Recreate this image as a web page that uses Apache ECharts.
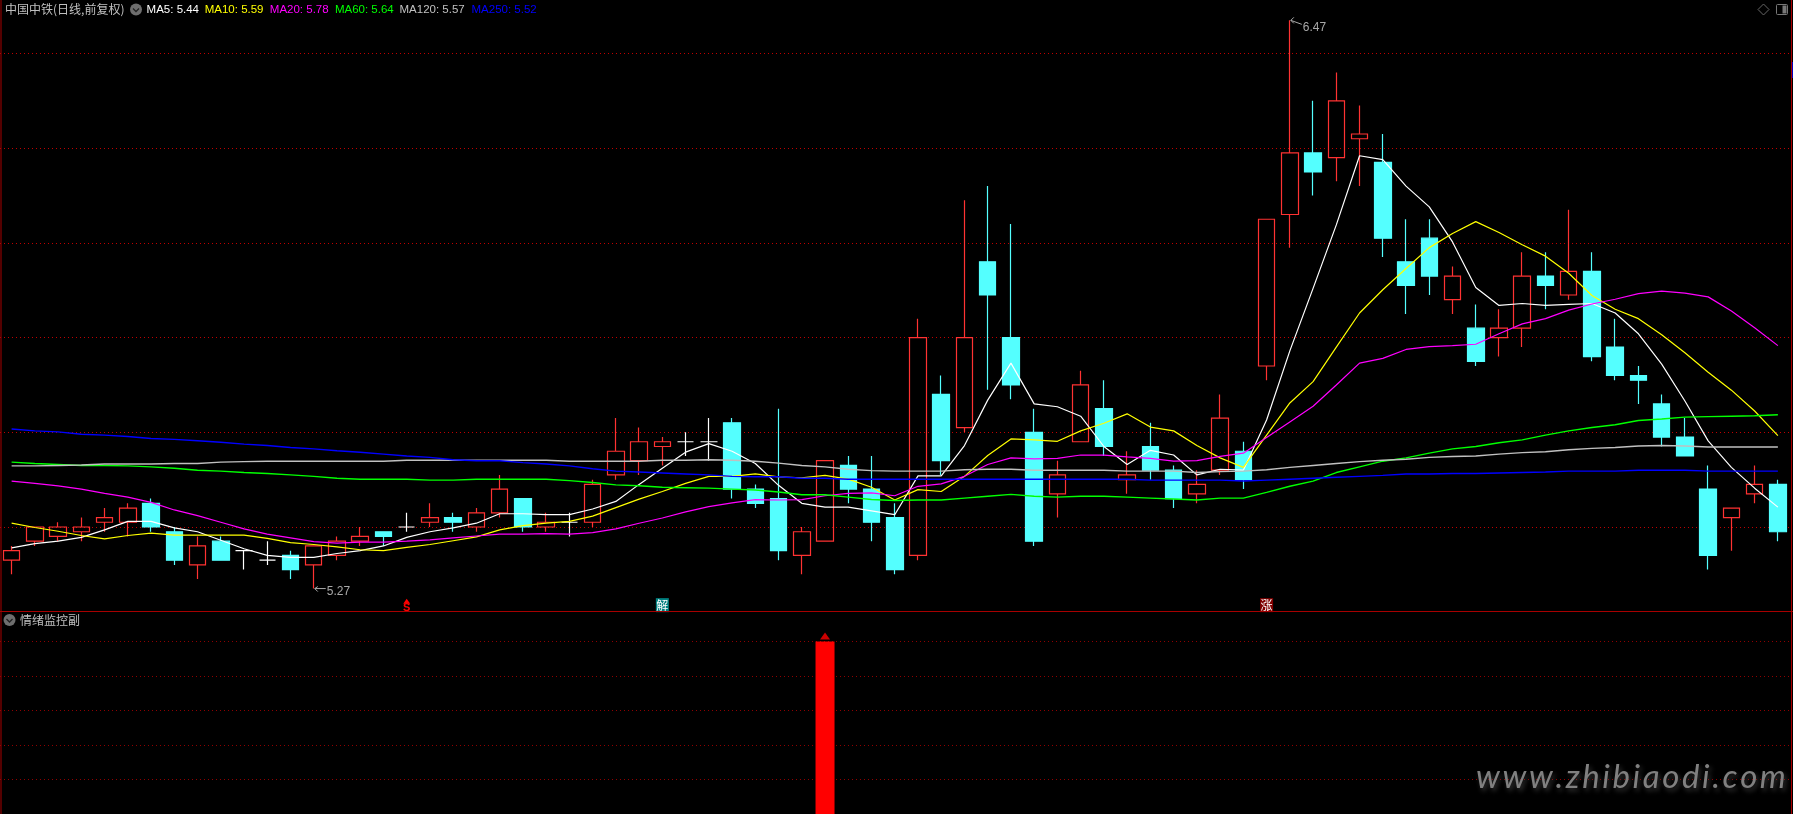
<!DOCTYPE html>
<html><head><meta charset="utf-8">
<style>html,body{margin:0;padding:0;background:#000;overflow:hidden}#c{width:1793px;height:814px}</style>
<script src="https://cdn.jsdelivr.net/npm/echarts@6/dist/echarts.min.js"></script>
</head><body><div id="c"></div>
<script>
const opens=[5.33,5.37,5.38,5.39,5.41,5.41,5.45,5.39,5.32,5.37,5.35,5.33,5.34,5.32,5.34,5.37,5.39,5.40,5.41,5.42,5.40,5.43,5.46,5.40,5.41,5.41,5.51,5.54,5.57,5.58,5.58,5.62,5.48,5.46,5.34,5.37,5.53,5.48,5.42,5.34,5.68,5.61,5.96,5.80,5.60,5.47,5.58,5.65,5.50,5.57,5.52,5.47,5.52,5.56,5.74,6.06,6.19,6.18,6.22,6.17,5.96,6.01,5.88,5.82,5.80,5.82,5.93,5.89,5.94,5.78,5.72,5.66,5.59,5.48,5.42,5.47,5.49];
const closes=[5.35,5.40,5.40,5.40,5.42,5.44,5.40,5.33,5.36,5.33,5.35,5.33,5.31,5.36,5.37,5.38,5.38,5.40,5.42,5.41,5.43,5.48,5.40,5.41,5.41,5.49,5.56,5.58,5.58,5.58,5.58,5.48,5.45,5.35,5.39,5.54,5.48,5.41,5.31,5.80,5.54,5.80,5.89,5.70,5.37,5.51,5.70,5.57,5.51,5.52,5.46,5.49,5.63,5.50,6.05,6.19,6.15,6.30,6.23,6.01,5.91,5.93,5.93,5.75,5.82,5.93,5.91,5.94,5.76,5.72,5.71,5.59,5.55,5.34,5.44,5.49,5.39];
const highs=[5.36,5.40,5.41,5.42,5.44,5.45,5.46,5.40,5.38,5.38,5.35,5.37,5.35,5.36,5.38,5.40,5.39,5.43,5.45,5.43,5.44,5.51,5.46,5.43,5.43,5.50,5.63,5.61,5.59,5.60,5.63,5.63,5.49,5.65,5.40,5.54,5.55,5.55,5.45,5.84,5.72,6.09,6.12,6.04,5.65,5.54,5.73,5.71,5.56,5.62,5.53,5.52,5.68,5.58,6.05,6.47,6.30,6.36,6.29,6.23,6.05,6.05,5.95,5.87,5.86,5.98,5.98,6.07,5.98,5.84,5.74,5.68,5.63,5.53,5.44,5.53,5.50];
const lows=[5.30,5.36,5.37,5.37,5.39,5.38,5.39,5.32,5.29,5.33,5.31,5.32,5.29,5.27,5.33,5.36,5.36,5.39,5.40,5.39,5.39,5.42,5.39,5.39,5.38,5.40,5.50,5.51,5.53,5.55,5.54,5.46,5.44,5.33,5.30,5.37,5.45,5.37,5.30,5.33,5.51,5.60,5.69,5.67,5.36,5.42,5.58,5.55,5.47,5.50,5.44,5.45,5.51,5.48,5.71,5.99,6.10,6.13,6.12,5.97,5.85,5.89,5.85,5.74,5.76,5.78,5.86,5.88,5.75,5.71,5.66,5.57,5.55,5.31,5.35,5.45,5.37];
const ma5=[5.356,5.365,5.370,5.378,5.394,5.412,5.412,5.398,5.390,5.372,5.354,5.340,5.336,5.336,5.344,5.350,5.360,5.378,5.390,5.398,5.408,5.428,5.428,5.426,5.426,5.438,5.454,5.490,5.524,5.558,5.576,5.560,5.534,5.488,5.450,5.442,5.442,5.434,5.426,5.508,5.508,5.572,5.668,5.746,5.660,5.654,5.634,5.570,5.532,5.562,5.552,5.510,5.522,5.520,5.626,5.772,5.904,6.038,6.184,6.176,6.120,6.076,6.002,5.906,5.868,5.872,5.868,5.870,5.872,5.852,5.808,5.744,5.666,5.582,5.526,5.482,5.442];
const ma10=[5.408,5.399,5.391,5.382,5.375,5.382,5.387,5.383,5.383,5.383,5.383,5.376,5.367,5.363,5.358,5.352,5.350,5.357,5.363,5.371,5.379,5.394,5.403,5.408,5.412,5.423,5.441,5.459,5.475,5.492,5.507,5.507,5.512,5.506,5.504,5.509,5.501,5.484,5.457,5.479,5.475,5.507,5.551,5.586,5.584,5.581,5.603,5.619,5.639,5.611,5.603,5.572,5.546,5.526,5.594,5.662,5.707,5.780,5.852,5.901,5.946,5.990,6.020,6.045,6.022,5.996,5.972,5.936,5.889,5.860,5.840,5.806,5.768,5.727,5.689,5.645,5.593];
const ma20=[5.497,5.492,5.487,5.480,5.471,5.463,5.452,5.436,5.424,5.410,5.396,5.385,5.377,5.369,5.366,5.368,5.368,5.370,5.373,5.377,5.381,5.385,5.385,5.386,5.385,5.388,5.396,5.408,5.419,5.432,5.443,5.451,5.458,5.457,5.458,5.466,5.471,5.472,5.466,5.486,5.491,5.507,5.532,5.546,5.544,5.545,5.552,5.552,5.548,5.545,5.539,5.540,5.549,5.556,5.589,5.622,5.655,5.700,5.746,5.756,5.775,5.781,5.783,5.786,5.808,5.829,5.840,5.858,5.871,5.881,5.893,5.898,5.894,5.886,5.856,5.821,5.783];
const ma60=[5.537,5.534,5.532,5.530,5.530,5.529,5.527,5.524,5.520,5.518,5.515,5.513,5.510,5.507,5.503,5.501,5.501,5.501,5.499,5.499,5.501,5.501,5.501,5.501,5.498,5.494,5.489,5.487,5.484,5.483,5.482,5.480,5.478,5.474,5.468,5.468,5.463,5.458,5.456,5.457,5.457,5.461,5.465,5.469,5.465,5.463,5.465,5.465,5.463,5.461,5.459,5.457,5.461,5.461,5.473,5.486,5.497,5.515,5.527,5.539,5.546,5.556,5.565,5.570,5.578,5.584,5.594,5.603,5.610,5.616,5.625,5.628,5.632,5.633,5.634,5.635,5.637];
const ma120=[5.529,5.529,5.530,5.531,5.533,5.533,5.533,5.534,5.534,5.537,5.538,5.539,5.539,5.539,5.539,5.539,5.539,5.541,5.541,5.541,5.541,5.541,5.541,5.541,5.539,5.539,5.539,5.539,5.541,5.541,5.542,5.541,5.539,5.535,5.530,5.527,5.522,5.519,5.518,5.518,5.518,5.521,5.522,5.522,5.520,5.520,5.520,5.520,5.518,5.518,5.518,5.515,5.517,5.518,5.521,5.526,5.530,5.534,5.538,5.541,5.543,5.547,5.549,5.550,5.554,5.557,5.559,5.563,5.566,5.568,5.571,5.572,5.571,5.569,5.569,5.569,5.569];
const ma250=[5.607,5.603,5.601,5.596,5.594,5.591,5.587,5.585,5.582,5.579,5.575,5.572,5.568,5.565,5.561,5.558,5.554,5.550,5.547,5.542,5.540,5.540,5.536,5.533,5.529,5.523,5.518,5.516,5.514,5.512,5.510,5.507,5.506,5.506,5.503,5.503,5.501,5.501,5.501,5.501,5.501,5.501,5.501,5.501,5.501,5.501,5.501,5.501,5.501,5.499,5.499,5.499,5.499,5.497,5.499,5.501,5.503,5.505,5.507,5.509,5.512,5.512,5.513,5.513,5.514,5.515,5.516,5.518,5.518,5.518,5.520,5.520,5.520,5.518,5.518,5.518,5.518];
const legendNames=['MA5','MA10','MA20','MA60','MA120','MA250'];
const legendValues=['5.44','5.59','5.78','5.64','5.57','5.52'];
const titleMain='中国中铁(日线,前复权)';
const titleSub='情绪监控副';
const watermark='www.zhibiaodi.com';
const extremes=[[13,5.27],[55,6.47]];
const signalIdx=[17,28,54];
const signalText=['S','解','涨'];
const signalLevel=5.236;
const subIdx=35;
const subValue=100;

const COLORS=['#ffffff','#ffff00','#ff00ff','#00ff00','#c0c0c0','#0000ff'];
const LEGX=[146.6,204.7,269.8,334.9,399.5,471.5];
const UP='#ff3232',DOWN='#54ffff';
const cats=opens.map((_,i)=>String(i));
const candle=opens.map((o,i)=>{
  const d={value:[o,closes[i],lows[i],highs[i]]};
  if(o===closes[i]) d.itemStyle={color:'#fff',color0:'#fff',borderColor:'#fff',borderColor0:'#fff'};
  return d;
});
const mas=[ma5,ma10,ma20,ma60,ma120,ma250];
const mainGrid={left:0,top:6.15,width:1789.5,height:615.55};
const subGrid={left:0,top:607,width:1789.5,height:207};

function chevronIcon(cx,cy){return [
  {type:'circle',shape:{cx,cy,r:6},style:{fill:'#6e6e6e'},z:20,silent:true},
  {type:'polyline',shape:{points:[[cx-3,cy-1],[cx,cy+2],[cx+3,cy-1]]},style:{stroke:'#222',lineWidth:1.3,fill:null},z:21,silent:true}
];}
const uiFont='Liberation Sans';
const wmFont='italic 33px "Lato"';
const mctx=document.createElement('canvas').getContext('2d');
mctx.font=wmFont;
let wmX=1476;
const wmChars=watermark.split('').map(ch=>{
  const el={type:'text',style:{x:wmX,y:760.5,text:ch,fill:'#808080',font:wmFont,textShadowColor:'rgba(90,90,90,0.6)',textShadowBlur:5,textShadowOffsetX:2,textShadowOffsetY:3},silent:true,z:30};
  wmX+=mctx.measureText(ch).width+2.6;
  return el;
});
const graphic=[
  {type:'rect',shape:{x:0.5,y:0,width:1,height:814},style:{fill:'#a80000'},silent:true,z:10},
  {type:'rect',shape:{x:1791,y:0,width:1,height:814},style:{fill:'#a80000'},silent:true,z:10},
  {type:'rect',shape:{x:1792,y:62,width:1,height:16},style:{fill:'#0000c0'},silent:true,z:10},
  {type:'rect',shape:{x:0,y:611,width:1793,height:1},style:{fill:'#a80000'},silent:true,z:10},
  {type:'text',style:{x:5,y:3,text:titleMain,fill:'#c0c0c0',font:'12px "Noto Sans CJK SC"'},silent:true,z:20},
  ...chevronIcon(136,9.5),
  ...legendNames.map((n,i)=>({type:'text',style:{x:LEGX[i],y:3.5,text:n+': '+legendValues[i],fill:COLORS[i],font:'11.5px "'+uiFont+'"'},silent:true,z:20})),
  {type:'polygon',shape:{points:[[1763.5,4],[1769,9.5],[1763.5,15],[1758,9.5]]},style:{fill:null,stroke:'#666',lineWidth:1},silent:true,z:20},
  {type:'rect',shape:{x:1776.5,y:4.5,width:11,height:10,r:1},style:{fill:null,stroke:'#777',lineWidth:1},silent:true,z:20},
  {type:'rect',shape:{x:1782.5,y:5.5,width:4,height:8},style:{fill:'#777'},silent:true,z:20},
  ...chevronIcon(9.5,620),
  {type:'text',style:{x:20,y:614,text:titleSub,fill:'#c0c0c0',font:'12px "Noto Sans CJK SC"'},silent:true,z:20},
  ...wmChars
];

const option={
  animation:false,backgroundColor:'#000',graphic,
  grid:[Object.assign({},mainGrid),Object.assign({},subGrid)],
  xAxis:[0,1].map(g=>({type:'category',gridIndex:g,data:cats,boundaryGap:true,show:false})),
  yAxis:[
    {type:'value',gridIndex:0,min:5.2,max:6.5,interval:0.2,axisLine:{show:false},axisTick:{show:false},axisLabel:{show:false},
     splitLine:{show:true,showMinLine:false,showMaxLine:false,lineStyle:{color:'#c00000',width:1,type:[1,3]}}},
    {type:'value',gridIndex:1,min:0,max:120,interval:20,axisLine:{show:false},axisTick:{show:false},axisLabel:{show:false},
     splitLine:{show:true,showMinLine:false,showMaxLine:false,lineStyle:{color:'#900000',width:1,type:[1,3]}}}
  ],
  series:[
    {type:'candlestick',name:'K',xAxisIndex:0,yAxisIndex:0,barWidth:17,data:candle,
     itemStyle:{color:'rgba(0,0,0,0)',color0:DOWN,borderColor:UP,borderColor0:DOWN,borderWidth:1.2}},
    ...mas.map((d,i)=>({type:'line',name:legendNames[i],xAxisIndex:0,yAxisIndex:0,data:d,showSymbol:false,smooth:false,
      lineStyle:{color:COLORS[i],width:i<3?1.2:1.4},z:3+i,silent:true})),
    {type:'custom',xAxisIndex:0,yAxisIndex:0,z:9,silent:true,data:extremes,
     renderItem:(p,api)=>{
       const c=api.coord([api.value(0),api.value(1)]);
       const high=api.value(1)>6;
       const dy=high?4:0, x=c[0]+1, y=c[1];
       return {type:'group',children:[
         {type:'polyline',shape:{points:[[x,y],[x+11,y+dy]]},style:{stroke:'#a8a8a8',lineWidth:1,fill:null}},
         {type:'polyline',shape:{points:[[x+3,y-3+(high?0:1)],[x,y],[x+3,y+3]]},style:{stroke:'#a8a8a8',lineWidth:1,fill:null}},
         {type:'text',style:{x:x+12,y:y+dy+3,text:api.value(1).toFixed(2),fill:'#a8a8a8',font:'12px "'+uiFont+'"',verticalAlign:'middle',textVerticalAlign:'middle'}}
       ]};
     }},
    {type:'custom',xAxisIndex:0,yAxisIndex:0,z:9,silent:true,clip:false,
     data:signalIdx.map((x,i)=>[x,signalLevel,i]),
     renderItem:(p,api)=>{
       const c=api.coord([api.value(0),api.value(1)]);
       const i=api.value(2), t=signalText[i];
       if(t==='S') return {type:'group',children:[
         {type:'polygon',shape:{points:[[c[0],c[1]-6],[c[0]+3.5,c[1]-1],[c[0]-3.5,c[1]-1]]},style:{fill:'#ff0000'}},
         {type:'text',style:{x:c[0],y:c[1]+3,text:t,fill:'#ff0000',font:'bold 11px "'+uiFont+'"',align:'center',textAlign:'center',verticalAlign:'middle',textVerticalAlign:'middle'}}
       ]};
       const bg=t==='解'?'#008080':'#800000';
       return {type:'group',children:[
         {type:'rect',shape:{x:c[0]-6.5,y:c[1]-6.5,width:13,height:14},style:{fill:bg}},
         {type:'text',style:{x:c[0],y:c[1]+0.5,text:t,fill:'#fff',font:'12px "Noto Sans CJK SC"',align:'center',textAlign:'center',verticalAlign:'middle',textVerticalAlign:'middle'}}
       ]};
     }},
    {type:'bar',xAxisIndex:1,yAxisIndex:1,barWidth:19,silent:true,
     data:cats.map((_,i)=>i===subIdx?subValue:null),itemStyle:{color:'#ff0000'}},
    {type:'scatter',xAxisIndex:1,yAxisIndex:1,silent:true,symbol:'triangle',symbolSize:[10,7],symbolOffset:[0,-5.5],
     data:[[subIdx,subValue]],itemStyle:{color:'#ff0000'}}
  ]
};
const chart=echarts.init(document.getElementById('c'),null,{renderer:'canvas',width:1793,height:814});
chart.setOption(option);
</script></body></html>
